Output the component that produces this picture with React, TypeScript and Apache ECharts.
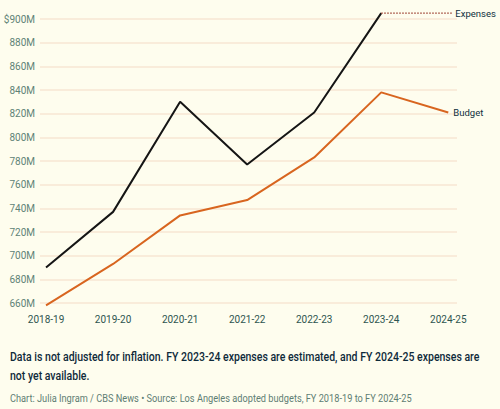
import React, { useEffect, useRef } from "react";
import * as echarts from "echarts";

const categories = ["2018-19", "2019-20", "2020-21", "2021-22", "2022-23", "2023-24", "2024-25"];
const expenses = [690, 737, 830, 777, 821, 905];
const budget = [658, 693, 734, 747, 783, 838, 821];
const expensesEstimateEnd = 6.06;

const note1 = "Data is not adjusted for inflation. FY 2023-24 expenses are estimated, and FY 2024-25 expenses are";
const note2 = "not yet available.";
const credit = "Chart: Julia Ingram / CBS News \u2022 Source: Los Angeles adopted budgets, FY 2018-19 to FY 2024-25";

export default function App() {
  const ref = useRef<HTMLDivElement>(null);
  useEffect(() => {
    if (!ref.current) return;
    const chart = echarts.init(ref.current, null, { renderer: "svg" });
    const font = "Roboto, 'Noto Sans', sans-serif";
    chart.setOption({
      animation: false,
      backgroundColor: "#fefdee",
      textStyle: { fontFamily: font },
      grid: { left: 40, right: 43, top: 19, bottom: 106, containLabel: false },
      xAxis: {
        type: "value",
        min: -0.09,
        max: 6.13,
        axisLine: { show: false },
        axisTick: { show: false },
        splitLine: { show: false },
        axisLabel: {
          customValues: categories.map((_, i) => i),
          formatter: (v: number) => categories[Math.round(v)] ?? "",
          color: "#2e5550",
          fontSize: 10,
          margin: 11,
        },
      },
      yAxis: {
        type: "value",
        min: 660,
        max: 900,
        interval: 20,
        axisLine: { show: false },
        axisTick: { show: false },
        splitLine: { lineStyle: { color: "#f7e6d3", width: 1.5 } },
        axisLabel: {
          formatter: (v: number) => (v === 900 ? "$900M" : `${v}M`),
          color: "#5e8377",
          fontSize: 10,
          margin: 5,
        },
      },
      series: [
        {
          name: "Expenses",
          type: "line",
          data: expenses.map((v, i) => [i, v]),
          showSymbol: false,
          clip: false,
          lineStyle: { color: "#151515", width: 2 },
          itemStyle: { color: "#151515" },
        },
        {
          name: "Expenses estimate",
          type: "line",
          data: [
            [expenses.length - 1, expenses[expenses.length - 1]],
            [expensesEstimateEnd, expenses[expenses.length - 1]],
          ],
          showSymbol: false,
          clip: false,
          lineStyle: { color: "#9a3b2b", width: 1.3, type: [1.5, 1.5] },
          endLabel: {
            show: true,
            formatter: "Expenses",
            color: "#0e2f3d",
            fontSize: 9.5,
            distance: 3,
          },
        },
        {
          name: "Budget",
          type: "line",
          data: budget.map((v, i) => [i, v]),
          showSymbol: false,
          clip: false,
          lineStyle: { color: "#d8651f", width: 2 },
          itemStyle: { color: "#d8651f" },
          endLabel: {
            show: true,
            formatter: "Budget",
            color: "#0e2f3d",
            fontSize: 9.5,
            distance: 5,
          },
        },
      ],
      graphic: [
        {
          type: "text",
          x: 10,
          y: 357,
          scaleX: 0.78,
          style: {
            text: note1,
            font: `500 13.5px ${font}`,
            fill: "#0e2a3a",
            verticalAlign: "middle",
          },
        },
        {
          type: "text",
          x: 10,
          y: 376,
          scaleX: 0.78,
          style: {
            text: note2,
            font: `500 13.5px ${font}`,
            fill: "#0e2a3a",
            verticalAlign: "middle",
          },
        },
        {
          type: "text",
          x: 10,
          y: 398,
          scaleX: 0.84,
          style: {
            text: credit,
            font: `11px ${font}`,
            fill: "#5f7e74",
            verticalAlign: "middle",
          },
        },
      ],
    });
    return () => chart.dispose();
  }, []);
  return (
    <div
      ref={ref}
      style={{ position: "absolute", left: 0, top: 0, width: 500, height: 409 }}
    />
  );
}
